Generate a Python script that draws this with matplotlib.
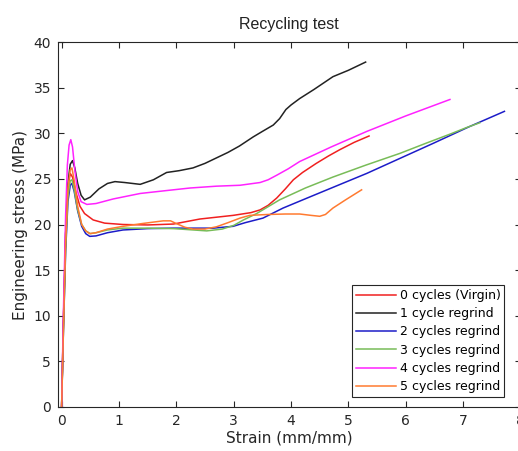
import matplotlib
matplotlib.use("Agg")
import matplotlib.pyplot as plt

# Engineering stress-strain curves for recycled material
labels = ["0 cycles (Virgin)", "1 cycle regrind", "2 cycles regrind",
          "3 cycles regrind", "4 cycles regrind", "5 cycles regrind"]
colors = ["#f02020", "#222222", "#1c1cc8", "#78bc58", "#ff22ff", "#ff7a30"]

strain_0 = [0, 0.03, 0.07, 0.11, 0.15, 0.19, 0.25, 0.32, 0.40, 0.55, 0.75, 1.07, 1.5,
            1.95, 2.41, 2.99, 3.3, 3.46, 3.6, 3.75, 3.9, 4.04, 4.2, 4.44, 4.65, 4.85,
            5.1, 5.36]
stress_0 = [0, 9, 19, 24, 25.6, 25.2, 23.5, 22.0, 21.2, 20.5, 20.15, 20.0, 19.95,
            20.05, 20.6, 21.0, 21.3, 21.6, 22.1, 22.9, 23.9, 24.9, 25.7, 26.7, 27.5,
            28.2, 29.0, 29.7]

strain_1 = [0, 0.03, 0.07, 0.11, 0.15, 0.19, 0.23, 0.28, 0.34, 0.40, 0.5, 0.65, 0.8,
            0.93, 1.1, 1.37, 1.6, 1.83, 2.05, 2.29, 2.5, 2.7, 2.9, 3.1, 3.34, 3.5,
            3.69, 3.8, 3.91, 4.0, 4.15, 4.4, 4.73, 5.0, 5.30]
stress_1 = [0, 9, 19, 24.5, 26.6, 27.0, 26.2, 24.5, 23.2, 22.7, 23.0, 23.9, 24.5,
            24.7, 24.6, 24.4, 24.9, 25.7, 25.9, 26.2, 26.7, 27.3, 27.9, 28.6, 29.6,
            30.2, 30.9, 31.6, 32.6, 33.1, 33.8, 34.8, 36.2, 36.9, 37.8]

strain_2 = [0, 0.03, 0.07, 0.11, 0.15, 0.18, 0.22, 0.28, 0.35, 0.42, 0.49, 0.6, 0.8,
            1.07, 1.5, 1.95, 2.41, 2.64, 2.99, 3.2, 3.51, 3.86, 4.3, 4.8, 5.32, 5.9,
            6.48, 7.1, 7.72]
stress_2 = [0, 8, 17, 22.5, 24.3, 24.5, 23.6, 21.5, 19.8, 19.0, 18.7, 18.75, 19.1,
            19.4, 19.55, 19.6, 19.6, 19.6, 19.8, 20.2, 20.7, 21.8, 22.95, 24.25, 25.6,
            27.25, 28.9, 30.7, 32.4]

strain_3 = [0, 0.03, 0.07, 0.11, 0.15, 0.18, 0.22, 0.28, 0.35, 0.42, 0.5, 0.6, 0.8,
            1.07, 1.5, 1.95, 2.3, 2.53, 2.8, 3.0, 3.17, 3.4, 3.8, 4.25, 4.73, 5.3,
            5.9, 6.35, 6.77, 7.05, 7.29]
stress_3 = [0, 8, 17.5, 23, 24.8, 24.9, 23.8, 21.6, 20.0, 19.3, 19.0, 19.1, 19.4,
            19.6, 19.6, 19.55, 19.4, 19.3, 19.5, 19.9, 20.5, 21.2, 22.7, 24.0, 25.2,
            26.5, 27.8, 28.9, 29.9, 30.6, 31.15]

strain_4 = [0, 0.03, 0.07, 0.10, 0.13, 0.16, 0.19, 0.23, 0.28, 0.34, 0.44, 0.6, 0.9,
            1.37, 1.8, 2.24, 2.7, 3.11, 3.46, 3.6, 3.75, 3.95, 4.15, 4.7, 5.32, 6.0,
            6.77]
stress_4 = [0, 10, 21, 26.5, 28.7, 29.3, 28.5, 26.0, 23.6, 22.5, 22.2, 22.3, 22.8,
            23.4, 23.7, 24.0, 24.2, 24.3, 24.6, 24.9, 25.4, 26.1, 26.9, 28.5, 30.2,
            31.9, 33.7]

strain_5 = [0, 0.03, 0.07, 0.11, 0.15, 0.18, 0.22, 0.28, 0.35, 0.42, 0.49, 0.6, 0.8,
            1.07, 1.4, 1.77, 1.9, 2.0, 2.15, 2.29, 2.5, 2.7, 2.9, 3.11, 3.28, 3.6,
            3.9, 4.15, 4.35, 4.5, 4.6, 4.73, 4.95, 5.23]
stress_5 = [0, 8, 18, 24, 26.0, 26.2, 24.8, 22.0, 20.0, 19.3, 19.0, 19.1, 19.5,
            19.8, 20.1, 20.4, 20.4, 20.1, 19.7, 19.5, 19.5, 19.75, 20.2, 20.7, 21.0,
            21.1, 21.15, 21.15, 21.0, 20.9, 21.1, 21.8, 22.7, 23.8]

x_ticks = [0, 1, 2, 3, 4, 5, 6, 7, 8]
y_ticks = [0, 5, 10, 15, 20, 25, 30, 35, 40]

series = [(strain_0, stress_0), (strain_1, stress_1), (strain_2, stress_2),
          (strain_3, stress_3), (strain_4, stress_4), (strain_5, stress_5)]

W, H = 518, 451
fig = plt.figure(figsize=(W / 100, H / 100), dpi=100)
ax = fig.add_axes([58 / W, (H - 407) / H, (520.5 - 58) / W, (407 - 42) / H])

for (xs, ys), lab, col in zip(series, labels, colors):
    ax.plot(xs, ys, color=col, lw=1.1, label=lab)

ax.set_xlim(-0.063, 8)
ax.set_ylim(0, 40)
ax.set_xticks(x_ticks)
ax.set_yticks(y_ticks)
ax.tick_params(direction="in", length=4, width=0.8, top=True, right=True,
               labelsize=10, colors="#262626", pad=5)
for sp in ax.spines.values():
    sp.set_color("#262626")
    sp.set_linewidth(0.8)

ax.set_xlabel("Strain (mm/mm)", fontsize=11, color="#262626", labelpad=2)
ax.set_ylabel("Engineering stress (MPa)", fontsize=11, color="#262626", labelpad=4)
ax.set_title("Recycling test", fontsize=11.5, family="Liberation Sans",
             color="#222222", pad=9)

leg = ax.legend(loc="lower left", bbox_to_anchor=(352 / W, (H - 397) / H),
                bbox_transform=fig.transFigure, fontsize=9, frameon=True,
                fancybox=False, edgecolor="#262626", framealpha=1,
                handlelength=3.2, handletextpad=0.3, labelspacing=0.42,
                borderpad=0.3, borderaxespad=0)
leg.get_frame().set_linewidth(0.8)

fig.savefig("out.png", dpi=100)
